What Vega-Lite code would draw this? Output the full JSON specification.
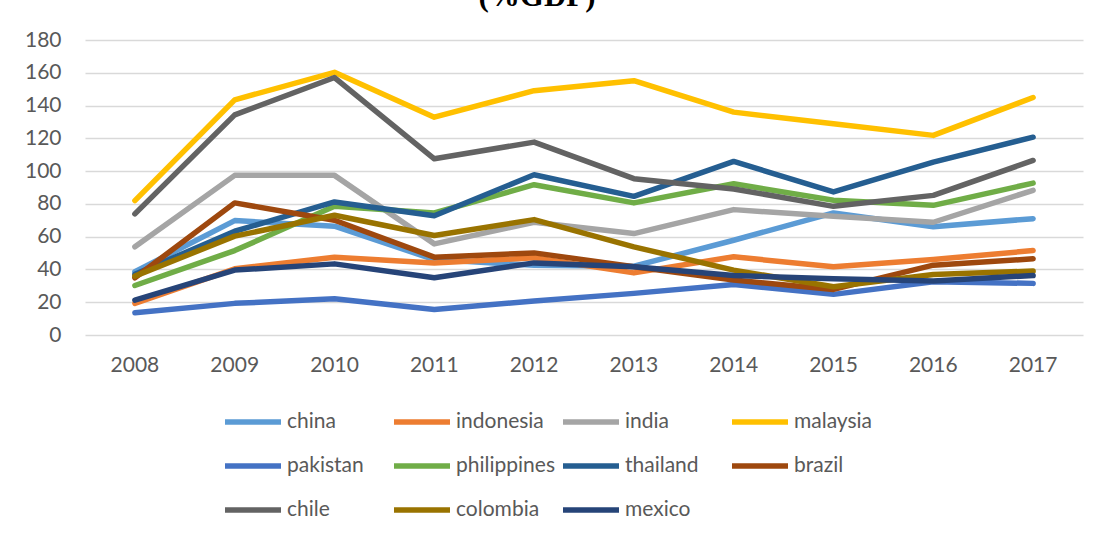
{
  "$schema": "https://vega.github.io/schema/vega-lite/v6.json",
  "autosize": "none",
  "width": 998,
  "height": 295,
  "padding": {"left": 85, "top": 40, "right": 25, "bottom": 200},
  "background": "white",
  "title": {"text": "(%GDP)", "font": "Liberation Serif", "fontSize": 31, "fontWeight": "bold", "color": "black", "anchor": "middle", "dx": -47, "offset": -15, "baseline": "bottom"},
  "config": {
    "view": {"stroke": null},
    "font": "Lato"
  },
  "data": {"values": [
    {"year":"2008","country":"china","value":38.6},
    {"year":"2009","country":"china","value":69.8},
    {"year":"2010","country":"china","value":66.4},
    {"year":"2011","country":"china","value":46.0},
    {"year":"2012","country":"china","value":42.5},
    {"year":"2013","country":"china","value":42.0},
    {"year":"2014","country":"china","value":57.8},
    {"year":"2015","country":"china","value":74.5},
    {"year":"2016","country":"china","value":66.0},
    {"year":"2017","country":"china","value":71.0},
    {"year":"2008","country":"indonesia","value":19.3},
    {"year":"2009","country":"indonesia","value":40.4},
    {"year":"2010","country":"indonesia","value":47.5},
    {"year":"2011","country":"indonesia","value":44.0},
    {"year":"2012","country":"indonesia","value":47.1},
    {"year":"2013","country":"indonesia","value":37.9},
    {"year":"2014","country":"indonesia","value":47.7},
    {"year":"2015","country":"indonesia","value":41.6},
    {"year":"2016","country":"indonesia","value":46.1},
    {"year":"2017","country":"indonesia","value":51.5},
    {"year":"2008","country":"india","value":53.8},
    {"year":"2009","country":"india","value":97.4},
    {"year":"2010","country":"india","value":97.4},
    {"year":"2011","country":"india","value":55.6},
    {"year":"2012","country":"india","value":68.8},
    {"year":"2013","country":"india","value":61.9},
    {"year":"2014","country":"india","value":76.5},
    {"year":"2015","country":"india","value":72.4},
    {"year":"2016","country":"india","value":68.8},
    {"year":"2017","country":"india","value":88.3},
    {"year":"2008","country":"malaysia","value":82.0},
    {"year":"2009","country":"malaysia","value":143.5},
    {"year":"2010","country":"malaysia","value":160.3},
    {"year":"2011","country":"malaysia","value":132.9},
    {"year":"2012","country":"malaysia","value":149.1},
    {"year":"2013","country":"malaysia","value":155.2},
    {"year":"2014","country":"malaysia","value":136.0},
    {"year":"2015","country":"malaysia","value":128.9},
    {"year":"2016","country":"malaysia","value":121.8},
    {"year":"2017","country":"malaysia","value":144.9},
    {"year":"2008","country":"pakistan","value":13.6},
    {"year":"2009","country":"pakistan","value":19.3},
    {"year":"2010","country":"pakistan","value":22.1},
    {"year":"2011","country":"pakistan","value":15.6},
    {"year":"2012","country":"pakistan","value":20.7},
    {"year":"2013","country":"pakistan","value":25.4},
    {"year":"2014","country":"pakistan","value":30.8},
    {"year":"2015","country":"pakistan","value":24.8},
    {"year":"2016","country":"pakistan","value":32.5},
    {"year":"2017","country":"pakistan","value":31.5},
    {"year":"2008","country":"philippines","value":30.2},
    {"year":"2009","country":"philippines","value":51.5},
    {"year":"2010","country":"philippines","value":78.5},
    {"year":"2011","country":"philippines","value":74.5},
    {"year":"2012","country":"philippines","value":91.7},
    {"year":"2013","country":"philippines","value":80.6},
    {"year":"2014","country":"philippines","value":92.3},
    {"year":"2015","country":"philippines","value":82.2},
    {"year":"2016","country":"philippines","value":79.1},
    {"year":"2017","country":"philippines","value":92.7},
    {"year":"2008","country":"thailand","value":37.0},
    {"year":"2009","country":"thailand","value":63.3},
    {"year":"2010","country":"thailand","value":81.2},
    {"year":"2011","country":"thailand","value":72.8},
    {"year":"2012","country":"thailand","value":97.8},
    {"year":"2013","country":"thailand","value":84.6},
    {"year":"2014","country":"thailand","value":105.9},
    {"year":"2015","country":"thailand","value":87.3},
    {"year":"2016","country":"thailand","value":105.5},
    {"year":"2017","country":"thailand","value":120.7},
    {"year":"2008","country":"brazil","value":34.9},
    {"year":"2009","country":"brazil","value":80.6},
    {"year":"2010","country":"brazil","value":70.0},
    {"year":"2011","country":"brazil","value":47.5},
    {"year":"2012","country":"brazil","value":50.1},
    {"year":"2013","country":"brazil","value":41.6},
    {"year":"2014","country":"brazil","value":33.5},
    {"year":"2015","country":"brazil","value":27.8},
    {"year":"2016","country":"brazil","value":42.6},
    {"year":"2017","country":"brazil","value":46.5},
    {"year":"2008","country":"chile","value":73.9},
    {"year":"2009","country":"chile","value":134.3},
    {"year":"2010","country":"chile","value":157.1},
    {"year":"2011","country":"chile","value":107.5},
    {"year":"2012","country":"chile","value":117.7},
    {"year":"2013","country":"chile","value":95.4},
    {"year":"2014","country":"chile","value":89.1},
    {"year":"2015","country":"chile","value":78.5},
    {"year":"2016","country":"chile","value":85.2},
    {"year":"2017","country":"chile","value":106.5},
    {"year":"2008","country":"colombia","value":35.9},
    {"year":"2009","country":"colombia","value":60.3},
    {"year":"2010","country":"colombia","value":73.1},
    {"year":"2011","country":"colombia","value":60.7},
    {"year":"2012","country":"colombia","value":70.4},
    {"year":"2013","country":"colombia","value":53.8},
    {"year":"2014","country":"colombia","value":39.6},
    {"year":"2015","country":"colombia","value":29.4},
    {"year":"2016","country":"colombia","value":36.9},
    {"year":"2017","country":"colombia","value":39.0},
    {"year":"2008","country":"mexico","value":21.3},
    {"year":"2009","country":"mexico","value":39.6},
    {"year":"2010","country":"mexico","value":43.4},
    {"year":"2011","country":"mexico","value":34.9},
    {"year":"2012","country":"mexico","value":44.0},
    {"year":"2013","country":"mexico","value":41.6},
    {"year":"2014","country":"mexico","value":36.3},
    {"year":"2015","country":"mexico","value":34.3},
    {"year":"2016","country":"mexico","value":32.9},
    {"year":"2017","country":"mexico","value":36.3}
  ]},
  "mark": {"type": "line", "strokeWidth": 5.5, "strokeCap": "round", "strokeJoin": "round"},
  "encoding": {
    "x": {
      "field": "year", "type": "ordinal", "title": null,
      "scale": {"type": "band", "paddingInner": 0, "paddingOuter": 0},
      "axis": {"domain": false, "ticks": false, "grid": false, "labelAngle": 0, "labelFont": "Lato", "labelFontSize": 21, "labelColor": "#595959", "labelPadding": 19}
    },
    "y": {
      "field": "value", "type": "quantitative", "title": null,
      "scale": {"domain": [0, 180], "nice": false},
      "axis": {"values": [0,20,40,60,80,100,120,140,160,180], "domain": false, "ticks": false, "gridColor": "#d9d9d9", "gridWidth": 1.5, "labelFont": "Lato", "labelFontSize": 21, "labelColor": "#595959", "labelPadding": 24}
    },
    "color": {
      "field": "country", "type": "nominal", "sort": null,
      "scale": {
        "domain": ["china","indonesia","india","malaysia","pakistan","philippines","thailand","brazil","chile","colombia","mexico"],
        "range": ["#5B9BD5","#ED7D31","#A5A5A5","#FFC000","#4472C4","#70AD47","#255E91","#9E480E","#636363","#997300","#264478"]
      },
      "legend": {
        "title": null, "orient": "none", "legendX": 137, "legendY": 351,
        "direction": "horizontal", "columns": 4, "gridAlign": "all",
        "symbolType": "stroke", "symbolSize": 3136, "symbolStrokeWidth": 5.5,
        "labelFont": "Lato", "labelFontSize": 21, "labelColor": "#595959", "labelOffset": 3,
        "labelLimit": 200, "columnPadding": -4, "rowPadding": 2, "padding": 0
      }
    }
  }
}
